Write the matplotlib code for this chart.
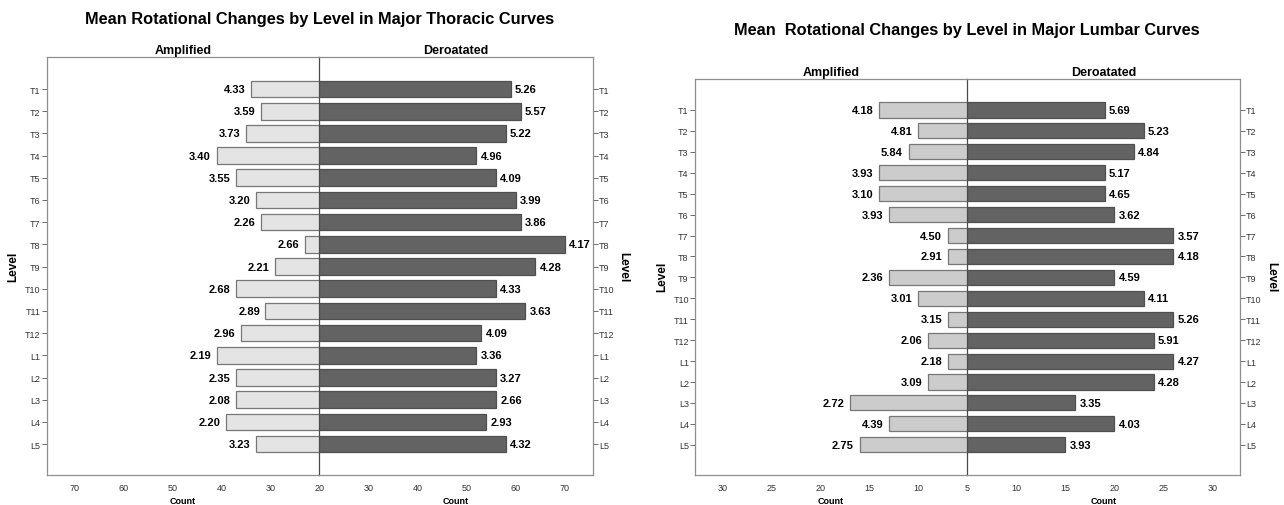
import matplotlib
matplotlib.use("Agg")
import matplotlib.pyplot as plt
import numpy as np

plt.rcParams['font.family'] = ['Liberation Sans', 'DejaVu Sans']

levels = ['T1', 'T2', 'T3', 'T4', 'T5', 'T6', 'T7', 'T8', 'T9', 'T10',
          'T11', 'T12', 'L1', 'L2', 'L3', 'L4', 'L5']

# Major thoracic curves
thor_amp_count = [34, 32, 35, 41, 37, 33, 32, 23, 29, 37, 31, 36, 41, 37, 37, 39, 33]
thor_amp_mean = [4.33, 3.59, 3.73, 3.40, 3.55, 3.20, 2.26, 2.66, 2.21, 2.68,
                 2.89, 2.96, 2.19, 2.35, 2.08, 2.20, 3.23]
thor_der_count = [59, 61, 58, 52, 56, 60, 61, 70, 64, 56, 62, 53, 52, 56, 56, 54, 58]
thor_der_mean = [5.26, 5.57, 5.22, 4.96, 4.09, 3.99, 3.86, 4.17, 4.28, 4.33,
                 3.63, 4.09, 3.36, 3.27, 2.66, 2.93, 4.32]
thor_ticks_left = [70, 60, 50, 40, 30, 20]
thor_ticks_right = [30, 40, 50, 60, 70]

# Major lumbar curves
lumb_amp_count = [14, 10, 11, 14, 14, 13, 7, 7, 13, 10, 7, 9, 7, 9, 17, 13, 16]
lumb_amp_mean = [4.18, 4.81, 5.84, 3.93, 3.10, 3.93, 4.50, 2.91, 2.36, 3.01,
                 3.15, 2.06, 2.18, 3.09, 2.72, 4.39, 2.75]
lumb_der_count = [19, 23, 22, 19, 19, 20, 26, 26, 20, 23, 26, 24, 26, 24, 16, 20, 15]
lumb_der_mean = [5.69, 5.23, 4.84, 5.17, 4.65, 3.62, 3.57, 4.18, 4.59, 4.11,
                 5.26, 5.91, 4.27, 4.28, 3.35, 4.03, 3.93]
lumb_ticks_left = [30, 25, 20, 15, 10, 5]
lumb_ticks_right = [10, 15, 20, 25, 30]

W, H = 1284, 506
fig = plt.figure(figsize=(W / 100, H / 100), dpi=100)

BOX = '#8f8f8f'
CENTER = '#4a4a4a'
TICKC = '#333333'
DARK = '#636363'
DARK_EDGE = '#4f4f4f'
LIGHT_EDGE = '#777777'


def fx(px):
    return px / W


def fy(py):
    return 1 - py / H


def panel(x0, xc, x1, ytop, ybot, base, xmax, amp_c, amp_m, der_c, der_m,
          ticks_l, ticks_r, ylim, bar_h, light, title, title_y, lvl_y):
    bottom = fy(ybot)
    height = (ybot - ytop) / H
    axl = fig.add_axes([fx(x0), bottom, fx(xc - x0), height])
    axr = fig.add_axes([fx(xc), bottom, fx(x1 - xc), height])
    y = np.arange(len(levels))
    axl.barh(y, amp_c, height=bar_h, color=light, edgecolor=LIGHT_EDGE, linewidth=0.9)
    axr.barh(y, der_c, height=bar_h, color=DARK, edgecolor=DARK_EDGE, linewidth=0.9)
    axl.set_xlim(xmax, base)
    axr.set_xlim(base, xmax)
    for ax in (axl, axr):
        ax.set_ylim(*ylim)
        ax.set_yticks(y)
        ax.set_yticklabels(levels)
        ax.tick_params(axis='y', length=3.5, width=0.6, color='#555555', pad=1,
                       labelsize=6.5, labelcolor=TICKC)
        ax.tick_params(axis='x', length=0, pad=6, labelsize=6.5, labelcolor=TICKC)
        for s in ax.spines.values():
            s.set_color(BOX)
            s.set_linewidth(0.9)
        ax.set_xlabel('Count', fontsize=6.5, fontweight='bold', labelpad=3)
    axl.spines['right'].set_visible(False)
    axr.spines['left'].set_color(CENTER)
    axr.spines['left'].set_linewidth(0.9)
    axr.yaxis.tick_right()
    axl.set_xticks(ticks_l)
    axr.set_xticks(ticks_r)
    for yi, c, m in zip(y, amp_c, amp_m):
        axl.annotate('%.2f' % m, xy=(c, yi), xytext=(-4, 0), textcoords='offset points',
                     ha='right', va='center', fontsize=8, fontweight='bold')
    for yi, c, m in zip(y, der_c, der_m):
        axr.annotate('%.2f' % m, xy=(c, yi), xytext=(3, 0), textcoords='offset points',
                     ha='left', va='center', fontsize=8, fontweight='bold')
    axl.set_title('Amplified', fontsize=9, fontweight='bold', pad=3)
    axr.set_title('Deroatated', fontsize=9, fontweight='bold', pad=3)
    fig.text(fx(xc), fy(title_y), title, ha='center', va='center',
             fontsize=11.8, fontweight='bold')
    fig.text(fx(x0 - 33), fy(lvl_y), 'Level', rotation=90, ha='center', va='center',
             fontsize=8.5, fontweight='bold')
    fig.text(fx(x1 + 31), fy(lvl_y), 'Level', rotation=270, ha='center', va='center',
             fontsize=8.5, fontweight='bold')


panel(46.7, 319.3, 592.7, 58.3, 475.7, 20, 75.7,
      thor_amp_count, thor_amp_mean, thor_der_count, thor_der_mean,
      thor_ticks_left, thor_ticks_right, (17.38, -1.43), 0.75, '#e4e4e4',
      'Mean Rotational Changes by Level in Major Thoracic Curves', 19.5, 267)

panel(695, 967.3, 1240, 80, 475.7, 5, 32.8,
      lumb_amp_count, lumb_amp_mean, lumb_der_count, lumb_der_mean,
      lumb_ticks_left, lumb_ticks_right, (17.43, -1.48), 0.72, '#cccccc',
      'Mean  Rotational Changes by Level in Major Lumbar Curves', 30.5, 277)

fig.savefig('out.png', dpi=100)
